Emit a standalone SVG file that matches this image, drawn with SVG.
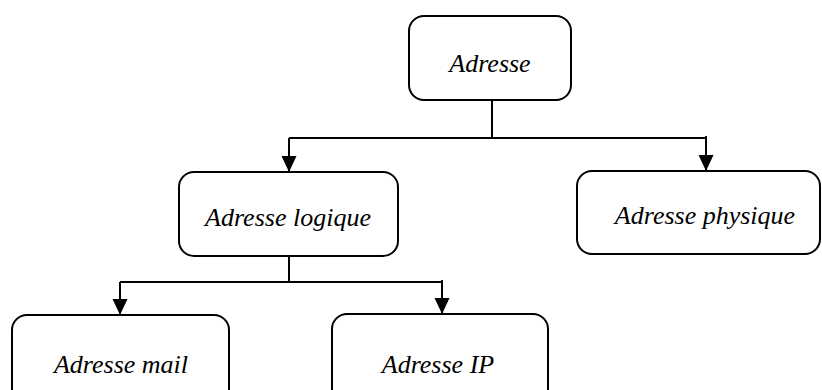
<svg xmlns="http://www.w3.org/2000/svg" width="822" height="390" viewBox="0 0 822 390">
<style>
.box{fill:#fff;stroke:#000;stroke-width:2}
.lbl{font-family:"Liberation Serif","Times New Roman",serif;font-style:italic;font-size:26px;fill:#000;text-anchor:middle}
.ln{fill:none;stroke:#000;stroke-width:2}
</style>
<defs>
<marker id="arr" markerWidth="16" markerHeight="16" refX="16" refY="7.5" orient="auto" markerUnits="userSpaceOnUse">
<path d="M0,0 L16,7.5 L0,15 Z" fill="#000"/>
</marker>
</defs>
<rect width="822" height="390" fill="#fff"/>
<g id="connectors">
<path class="ln" d="M492,100 V138"/>
<path class="ln" d="M289,138 H707"/>
<path class="ln" d="M289,138 V172" marker-end="url(#arr)"/>
<path class="ln" d="M706,136 V171" marker-end="url(#arr)"/>
<path class="ln" d="M289,256 V282"/>
<path class="ln" d="M120,282 H443"/>
<path class="ln" d="M120,282 V315" marker-end="url(#arr)"/>
<path class="ln" d="M442,280 V314" marker-end="url(#arr)"/>
</g>
<g id="adresse">
<rect class="box" x="409" y="16" width="162" height="84" rx="15"/>
<text class="lbl" x="490" y="72">Adresse</text>
</g>
<g id="logique">
<rect class="box" x="179" y="172" width="219" height="84" rx="15"/>
<text class="lbl" x="288" y="226">Adresse logique</text>
</g>
<g id="physique">
<rect class="box" x="577" y="171" width="243" height="83" rx="15"/>
<text class="lbl" x="705" y="224">Adresse physique</text>
</g>
<g id="mail">
<rect class="box" x="12" y="315" width="217" height="95" rx="15"/>
<text class="lbl" x="121" y="373">Adresse mail</text>
</g>
<g id="ip">
<rect class="box" x="332" y="314" width="216" height="96" rx="15"/>
<text class="lbl" x="438" y="373">Adresse IP</text>
</g>
</svg>
